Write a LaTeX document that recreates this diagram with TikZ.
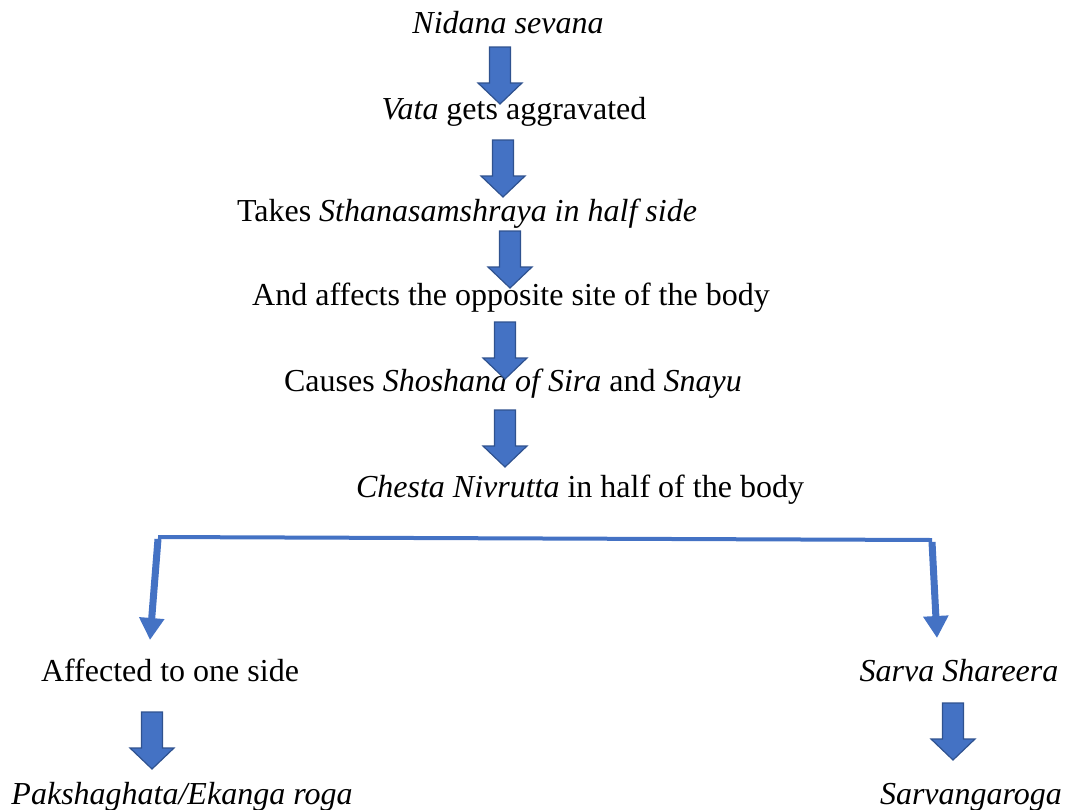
\documentclass[tikz,border=0pt]{standalone}
\usepackage{fontspec}
\setmainfont{Liberation Serif}
\usepackage{xcolor}
\usepackage{tikz}
\usetikzlibrary{arrows.meta}
\definecolor{flowBlue}{HTML}{4472C4}
\definecolor{flowEdge}{HTML}{2F528F}

\tikzset{
    blockarrow/.pic={
        \draw[draw=flowEdge, fill=flowBlue, line width=1.2pt, line join=miter]
            (-10.5,0) -- (10.5,0) -- (10.5,36) -- (22,36) -- (0,57)
            -- (-22,36) -- (-10.5,36) -- cycle;
    },
}

\begin{document}
\begin{tikzpicture}[
    x=1pt, y=-1pt,
    label/.style={anchor=base, inner sep=0pt, font=\fontsize{32}{38}\selectfont},
    branch/.style={flowBlue, line width=4pt},
    drop/.style={flowBlue, line width=7pt, -{Triangle[length=22pt, width=24pt]}},
]
\useasboundingbox (0,0) rectangle (1065,809);

% Main chain
\node[label] (nidana) at (508,33) {\textit{Nidana sevana}};
\node[label] (vata) at (514,119) {\textit{Vata} gets aggravated};
\node[label] (takes) at (467,221) {Takes \textit{Sthanasamshraya in half side}};
\node[label] (affects) at (511,305) {And affects the opposite site of the body};
\node[label] (causes) at (513,391) {Causes \textit{Shoshana of Sira} and \textit{Snayu}};
\node[label] (chesta) at (580,497) {\textit{Chesta Nivrutta} in half of the body};

\pic (a1) at (500,47) {blockarrow};
\pic (a2) at (503,140) {blockarrow};
\pic (a3) at (510,231) {blockarrow};
\pic (a4) at (505,322) {blockarrow};
\pic (a5) at (505,410) {blockarrow};

% Branches
\node[label] (oneside) at (170,681) {Affected to one side};
\node[label] (sarva) at (959,681) {\textit{Sarva Shareera}};
\node[label] (paksha) at (182,804) {\textit{Pakshaghata/Ekanga roga}};
\node[label] (sarvanga) at (971,804) {\textit{Sarvangaroga}};

\coordinate (brL) at (158,537);
\coordinate (brR) at (932,540);
\coordinate (endL) at (150,640);
\coordinate (endR) at (937,638);
\draw[branch] (brL) -- (brR);
\draw[drop] ([yshift=-2pt]brL) -- (endL);
\draw[drop] ([yshift=-2pt]brR) -- (endR);

\pic (a6) at (152,712) {blockarrow};
\pic (a7) at (953,703) {blockarrow};
\end{tikzpicture}
\end{document}
